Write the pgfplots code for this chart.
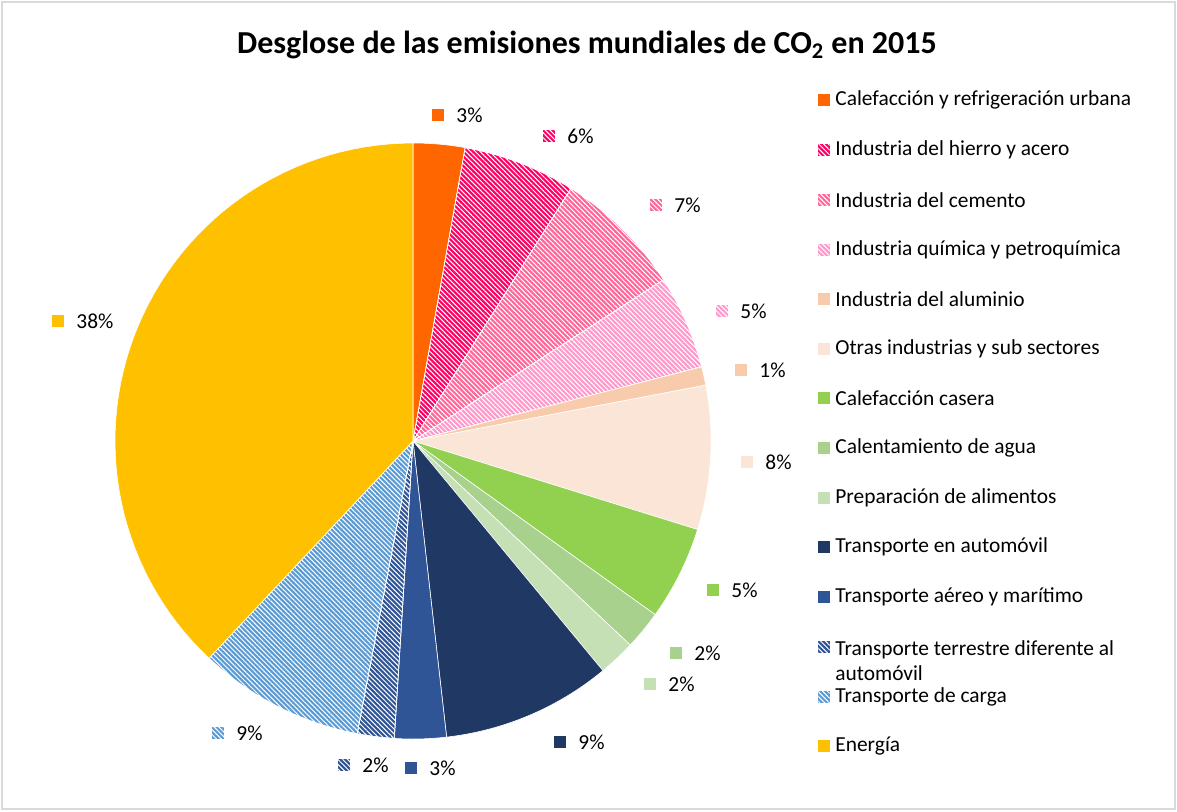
\documentclass[border=0pt]{standalone}
\usepackage{pgfplots}
\pgfplotsset{compat=1.18}
\usepgfplotslibrary{polar}
\usetikzlibrary{patterns.meta}
\usepackage{fontspec}
\setmainfont{Carlito}

\definecolor{cOrange}{HTML}{FF6600}
\definecolor{cHierro}{HTML}{FF0066}
\definecolor{cCemento}{HTML}{FF6699}
\definecolor{cQuimica}{HTML}{FF99CC}
\definecolor{cAlum}{HTML}{F8CBAD}
\definecolor{cOtras}{HTML}{FBE5D6}
\definecolor{cCasera}{HTML}{92D050}
\definecolor{cAgua}{HTML}{A9D18E}
\definecolor{cAlim}{HTML}{C5E0B4}
\definecolor{cAuto}{HTML}{203864}
\definecolor{cAereo}{HTML}{2F5597}
\definecolor{cCarga}{HTML}{5B9BD5}
\definecolor{cEnergia}{HTML}{FFC000}
\definecolor{cBorder}{HTML}{D9D9D9}

\tikzset{
  solid/.style={fill=#1},
  hatch/.style={preaction={fill=#1}, pattern={Lines[angle=-45,distance=1.7pt,line width=0.5pt]}, pattern color=white},
  s1/.style={solid=cOrange},
  s2/.style={hatch=cHierro},
  s3/.style={hatch=cCemento},
  s4/.style={hatch=cQuimica},
  s5/.style={solid=cAlum},
  s6/.style={solid=cOtras},
  s7/.style={solid=cCasera},
  s8/.style={solid=cAgua},
  s9/.style={solid=cAlim},
  s10/.style={solid=cAuto},
  s11/.style={solid=cAereo},
  s12/.style={hatch=cAereo},
  s13/.style={hatch=cCarga},
  s14/.style={solid=cEnergia},
}

% slice values (percent of world CO2 emissions, clockwise from 12 o'clock)
\pgfplotstableread{
id value
1 2.8
2 6.1
3 7.0
4 5.1
5 1.0
6 7.8
7 5.1
8 2.1
9 2.0
10 9.2
11 2.8
12 2.0
13 9.0
14 38.0
}\slicedata

\begin{document}
\begin{tikzpicture}[font=\fontsize{10.7}{12.8}\selectfont]
\draw[cBorder, line width=1pt] (1pt,1pt) rectangle (587.5pt,404.5pt);

\begin{polaraxis}[
  at={(206.5pt,185pt)}, anchor=center,
  scale only axis, width=298pt, height=298pt,
  hide axis, ymin=0, ymax=1, clip=false,
]
\gdef\cum{0}
\pgfplotsforeachungrouped \i in {0,...,13}{
  \pgfplotstablegetelem{\i}{value}\of\slicedata
  \pgfmathsetmacro\aa{90-3.6*\cum}
  \pgfmathsetmacro\tmp{\cum+\pgfplotsretval}
  \xdef\cum{\tmp}
  \pgfmathsetmacro\bb{90-3.6*\cum}
  \pgfmathtruncatemacro\k{\i+1}
  \edef\doslice{\noexpand\addplot[s\k, draw=white, line width=0.3pt, domain=\bb:\aa, samples=60] {1} -- (axis cs:0,0) -- cycle;}
  \doslice
}
\coordinate (O) at (axis cs:0,0);
\end{polaraxis}

% data labels (offsets in px from the pie centre)
\newcommand\plab[4]{% dx, dy (px from centre), style, text
  \node[s#3, minimum size=6pt, inner sep=0pt, draw=none] at ([shift={(#1*0.5pt,-#2*0.5pt)}]O) {};
  \node[anchor=west, inner sep=0pt] at ([shift={(#1*0.5pt+9pt,-#2*0.5pt)}]O) {#4};
}
\plab{25}{-326}{1}{3\%}
\plab{136}{-305}{2}{6\%}
\plab{243}{-236}{3}{7\%}
\plab{309}{-130}{4}{5\%}
\plab{328}{-71}{5}{1\%}
\plab{334}{21}{6}{8\%}
\plab{300}{149}{7}{5\%}
\plab{263}{212}{8}{2\%}
\plab{237}{243}{9}{2\%}
\plab{147}{301}{10}{9\%}
\plab{-2}{327}{11}{3\%}
\plab{-69}{324}{12}{2\%}
\plab{-195}{292}{13}{9\%}
\plab{-355}{-120}{14}{38\%}

% title
\node[font=\fontsize{16}{19}\selectfont\bfseries] at (293.5pt,383pt) {Desglose de las emisiones mundiales de CO\textsubscript{2} en 2015};

% legend
\newcommand\lent[3]{% y px, style, text
  \node[s#2, minimum size=6pt, inner sep=0pt, draw=none] at (411.75pt,{405.5pt-#1*0.5pt}) {};
  \node[anchor=west, inner sep=0pt, align=left] at (417.5pt,{405.5pt-#1*0.5pt}) {#3};
}
\lent{100}{1}{Calefacción y refrigeración urbana}
\lent{150}{2}{Industria del hierro y acero}
\lent{200}{3}{Industria del cemento}
\lent{250}{4}{Industria química y petroquímica}
\lent{299}{5}{Industria del aluminio}
\lent{349}{6}{Otras industrias y sub sectores}
\lent{398}{7}{Calefacción casera}
\lent{448}{8}{Calentamiento de agua}
\lent{498}{9}{Preparación de alimentos}
\lent{547}{10}{Transporte en automóvil}
\lent{597}{11}{Transporte aéreo y marítimo}
\node[s12, minimum size=6pt, inner sep=0pt, draw=none] at (411.75pt,{405.5pt-647*0.5pt}) {};
\node[anchor=north west, inner sep=0pt, align=left, font=\fontsize{10.7}{12.4}\selectfont] at (417.5pt,{405.5pt-640*0.5pt}) {Transporte terrestre diferente al\\automóvil};
\lent{697}{13}{Transporte de carga}
\lent{746}{14}{Energía}

\pgfresetboundingbox
\useasboundingbox (0,0) rectangle (588.5pt,405.5pt);
\end{tikzpicture}
\end{document}
